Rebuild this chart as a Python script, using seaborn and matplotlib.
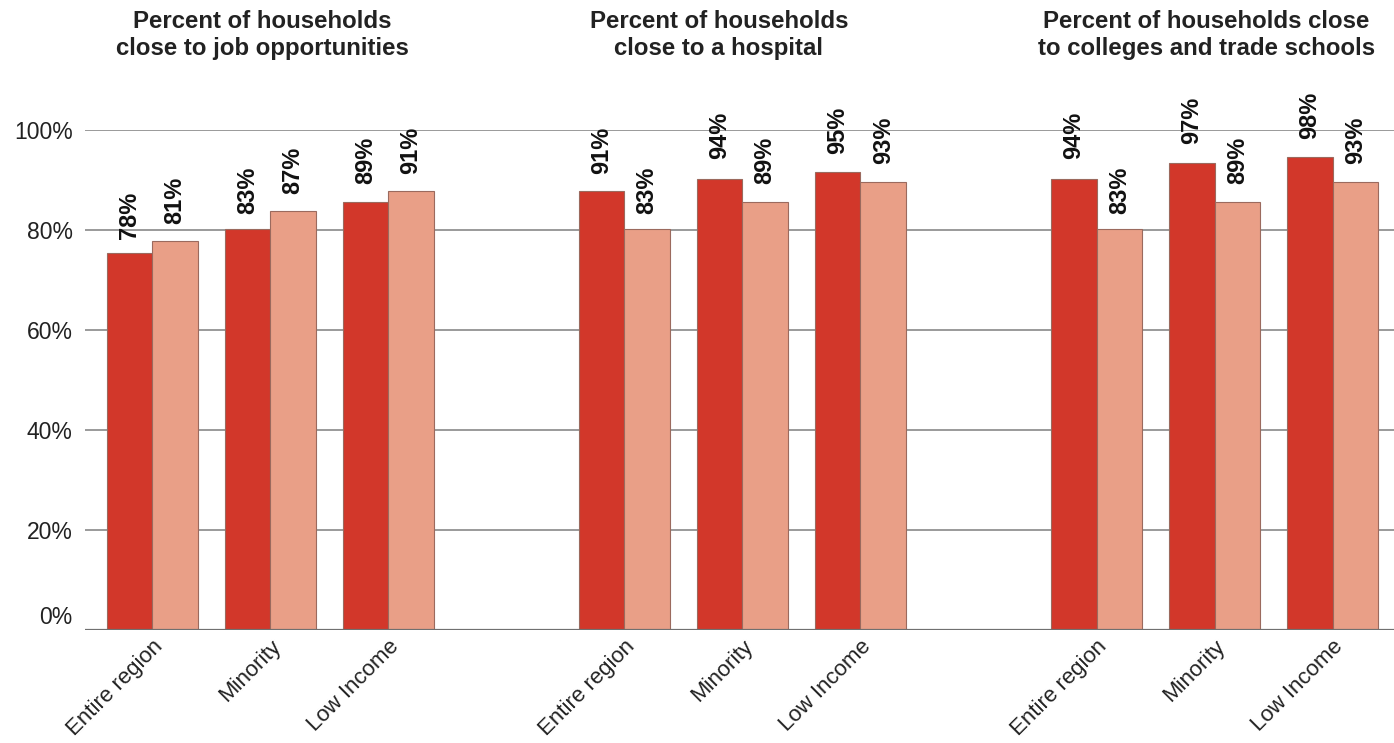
import matplotlib
matplotlib.use("Agg")
import matplotlib.pyplot as plt
import matplotlib.transforms as mtransforms
import pandas as pd
import seaborn as sns

# Categories and group titles
categories = ["Entire region", "Minority", "Low Income"] * 3
positions = [0, 1, 2, 4, 5, 6, 8, 9, 10]
titles = ["Percent of households\nclose to job opportunities",
          "Percent of households\nclose to a hospital",
          "Percent of households close\nto colleges and trade schools"]

# Values printed on the bars (percent)
dark_values = [78, 83, 89, 91, 94, 95, 94, 97, 98]
light_values = [81, 87, 91, 83, 89, 93, 83, 89, 93]

# Bar heights as drawn in the picture (percent of axis)
dark_heights = [75.5, 80.2, 85.7, 87.9, 90.3, 91.6, 90.3, 93.4, 94.7]
light_heights = [77.9, 83.9, 87.9, 80.2, 85.7, 89.7, 80.2, 85.7, 89.7]

DARK = "#d2372a"
LIGHT = "#e99f87"

sns.set_theme(style="white")
plt.rcParams["font.family"] = ["Liberation Sans", "DejaVu Sans"]

df = pd.DataFrame({
    "pos": positions * 2,
    "series": ["dark"] * 9 + ["light"] * 9,
    "height": dark_heights + light_heights,
})

fig = plt.figure(figsize=(13.94, 7.43), dpi=100)
ax = fig.add_axes([0.061, 0.152, 0.939, 0.673])

# Grid lines behind the bars
for v in [20, 40, 60, 80, 100]:
    ax.axhline(v, color="#9a9a9a", lw=1.4, zorder=0)
ax.axhline(0, color="#707070", lw=1.6, zorder=3)

sns.barplot(data=df, x="pos", y="height", hue="series", native_scale=True,
            orient="x", width=0.77, palette=[DARK, LIGHT], saturation=1,
            edgecolor="#9b6a5e", linewidth=0.8, legend=False, ax=ax, zorder=2)

# Value labels sit at the printed value
for cont, vals in zip(ax.containers, [dark_values, light_values]):
    for bar, v in zip(cont, vals):
        ax.text(bar.get_x() + bar.get_width() / 2, v + 0.3, f"{v}%",
                rotation=90, ha="center", va="bottom", fontsize=17,
                fontweight="bold", color="#111111", clip_on=False)

# Group titles
for x, t in zip([0.93, 4.8, 8.93], titles):
    ax.text(x, 119, t, ha="center", va="center", fontsize=17.3,
            fontweight="bold", color="#222222", linespacing=1.25,
            clip_on=False)

ax.set_xlim(-0.57, 10.52)
ax.set_ylim(0, 100)
ax.set_xticks(positions)
ax.set_xticklabels(categories, rotation=45, ha="right",
                   rotation_mode="anchor", fontsize=16, color="#222222")
ax.set_yticks([0, 20, 40, 60, 80, 100])
ax.set_yticklabels(["0%", "20%", "40%", "60%", "80%", "100%"],
                   fontsize=16.5, color="#222222")
ax.tick_params(axis="both", length=0)
ax.tick_params(axis="y", pad=9)
ax.tick_params(axis="x", pad=4)
# the 0% label sits a little above the baseline
ylabels = ax.get_yticklabels()
ylabels[0].set_transform(ylabels[0].get_transform() +
                         mtransforms.ScaledTranslation(0, 15 / 100, fig.dpi_scale_trans))
ax.set_xlabel("")
ax.set_ylabel("")
for s in ax.spines.values():
    s.set_visible(False)

fig.savefig("out.png", dpi=100, facecolor="white")
